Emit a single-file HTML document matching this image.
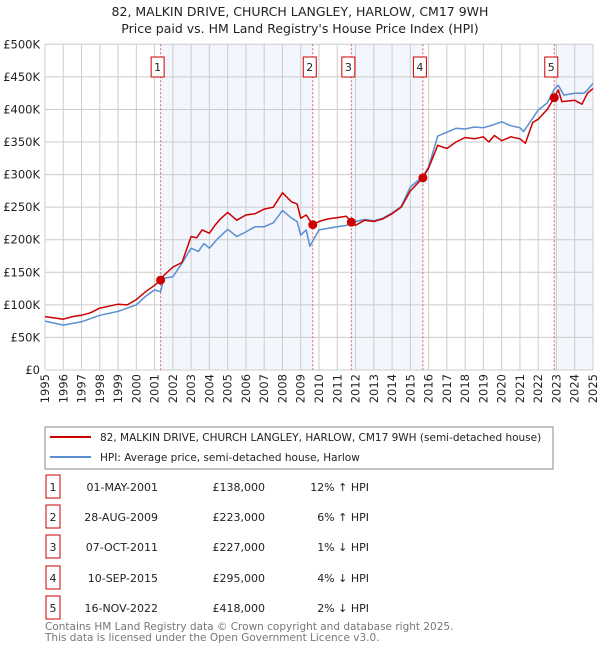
<!DOCTYPE html>
<html><head><meta charset="utf-8"><style>
body{margin:0;background:#fff;font-family:"Liberation Sans","DejaVu Sans",sans-serif;}
svg text{font-family:"DejaVu Sans","Liberation Sans",sans-serif;}
</style></head><body>
<svg id="c" width="600" height="650" xmlns="http://www.w3.org/2000/svg">
<text x="300" y="16" text-anchor="middle" font-size="12.5" fill="#222">82, MALKIN DRIVE, CHURCH LANGLEY, HARLOW, CM17 9WH</text>
<text x="300" y="33" text-anchor="middle" font-size="12.5" fill="#222">Price paid vs. HM Land Registry's House Price Index (HPI)</text>
<g id="plot"></g>
<rect x="45" y="427" width="508" height="42" fill="#fff" stroke="#888"/>
<line x1="50" y1="437" x2="91" y2="437" stroke="#cc0000" stroke-width="2"/>
<text x="100" y="441" font-size="10.5" fill="#222">82, MALKIN DRIVE, CHURCH LANGLEY, HARLOW, CM17 9WH (semi-detached house)</text>
<line x1="50" y1="457" x2="91" y2="457" stroke="#5b8fd0" stroke-width="2"/>
<text x="100" y="461" font-size="10.5" fill="#222">HPI: Average price, semi-detached house, Harlow</text>
<g id="table"></g>
<text x="45" y="630" font-size="10.5" fill="#777">Contains HM Land Registry data © Crown copyright and database right 2025.</text>
<text x="45" y="641" font-size="10.5" fill="#777">This data is licensed under the Open Government Licence v3.0.</text>
</svg>
<script>
const redT=[1995,1995.5,1996,1996.5,1997,1997.5,1998,1998.5,1999,1999.5,2000,2000.5,2001,2001.33,2001.5,2002,2002.5,2003,2003.3,2003.6,2004,2004.3,2004.6,2005,2005.5,2006,2006.5,2007,2007.5,2008,2008.5,2008.8,2009,2009.3,2009.66,2010,2010.5,2011,2011.5,2011.77,2012,2012.5,2013,2013.5,2014,2014.5,2015,2015.69,2016,2016.5,2017,2017.5,2018,2018.5,2019,2019.3,2019.6,2020,2020.5,2021,2021.3,2021.7,2022,2022.5,2022.88,2023.1,2023.3,2024,2024.4,2024.7,2025];
const redV=[82,80,78,82,84,88,95,98,101,100,108,120,130,138,145,158,165,205,203,215,210,222,232,242,230,238,240,247,250,272,258,255,233,238,223,228,232,234,236,227,222,230,228,232,240,250,275,295,310,345,340,350,357,355,358,350,360,352,358,355,348,380,385,400,418,430,412,414,408,425,432];
const hpiT=[1995,1996,1997,1998,1999,2000,2000.5,2001,2001.33,2001.5,2002,2002.5,2003,2003.4,2003.7,2004,2004.4,2005,2005.5,2006,2006.5,2007,2007.5,2008,2008.5,2008.8,2009,2009.3,2009.5,2010,2011,2011.5,2012,2012.5,2013,2013.5,2014,2014.5,2015,2015.69,2016,2016.5,2017,2017.5,2018,2018.5,2019,2019.5,2020,2020.5,2021,2021.2,2022,2022.5,2022.9,2023.1,2023.4,2024,2024.5,2024.7,2025];
const hpiV=[75,69,74,84,90,100,113,123,120,141,143,164,187,182,194,187,200,216,205,212,220,220,226,245,233,228,207,215,190,215,220,222,228,231,229,233,241,251,281,297,312,359,365,371,370,373,372,376,381,375,372,366,399,410,432,437,422,425,425,430,440];
const saleT=[2001.33,2009.66,2011.77,2015.69,2022.88];
const saleV=[138,223,227,295,418];
const saleLbl=["1","2","3","4","5"];
const saleDate=["01-MAY-2001","28-AUG-2009","07-OCT-2011","10-SEP-2015","16-NOV-2022"];
const salePrice=["£138,000","£223,000","£227,000","£295,000","£418,000"];
const salePct=["12% ↑ HPI","6% ↑ HPI","1% ↓ HPI","4% ↓ HPI","2% ↓ HPI"];
const yTicks=[0,50,100,150,200,250,300,350,400,450,500];
const yTickLbl=["£0","£50K","£100K","£150K","£200K","£250K","£300K","£350K","£400K","£450K","£500K"];
const NS="http://www.w3.org/2000/svg";
const X=t=>45+(t-1995)*(548/30);
const Y=v=>370-v*(325.7/500);
const g=document.getElementById('plot');
function mk(tag,a,p){const e=document.createElementNS(NS,tag);for(const k in a)e.setAttribute(k,a[k]);(p||g).appendChild(e);return e;}
for(let i=0;i<saleT.length;i+=2){const x1=X(saleT[i]);const x2=i+1<saleT.length?X(saleT[i+1]):X(2025);
const r=mk('rect',{x:x1,y:Y(500),width:x2-x1,height:Y(0)-Y(500),fill:'#f3f6fd'});

}
for(let y=1995;y<=2025;y++){const l=mk('line',{x1:X(y),x2:X(y),y1:Y(500),y2:Y(0),stroke:'#ccc','stroke-width':1});


const t=mk('text',{x:0,y:0,'font-size':11.5,fill:'#222','text-anchor':'end',transform:`translate(${X(y)+4},374) rotate(-90)`});t.textContent=y;

}
yTicks.forEach((v,i)=>{const l=mk('line',{x1:X(1995),x2:X(2025),y1:Y(v),y2:Y(v),stroke:'#ccc','stroke-width':1});


const t=mk('text',{x:40,y:Y(v)+4,'font-size':11.5,fill:'#222','text-anchor':'end'});t.textContent=yTickLbl[i];

});
saleT.forEach((t,i)=>{const l=mk('line',{x1:X(t),x2:X(t),y1:Y(500),y2:Y(0),stroke:'#e06060','stroke-width':1,'stroke-dasharray':'2,2'});


const r=mk('rect',{x:X(t)-9.5,y:57,width:13,height:20,fill:'#fff',stroke:'#cc0000'});


const tx=mk('text',{x:X(t)-3,y:71,'font-size':11,fill:'#222','text-anchor':'middle'});tx.textContent=saleLbl[i];

});
function path(T,V,col,name){const d=T.map((t,i)=>(i?'L':'M')+X(t).toFixed(1)+','+Y(V[i]).toFixed(1)).join('');
const p=mk('path',{d:d,fill:'none',stroke:col,'stroke-width':1.5,'stroke-linejoin':'round'});

}
path(hpiT,hpiV,'#5b8fd0','hpi-line');
path(redT,redV,'#cc0000','property-line');
saleT.forEach((t,i)=>{const c=mk('circle',{cx:X(t),cy:Y(saleV[i]),r:4.5,fill:'#cc0000'});

});
const tb=document.getElementById('table');
const rowY=[488,518,548,579,609];
saleLbl.forEach((s,i)=>{const y=rowY[i];
const r=mk('rect',{x:46,y:y-13,width:14,height:23,fill:'#fff',stroke:'#cc0000'},tb);


const cells=[[53,'middle',s],[158,'end',saleDate[i]],[265,'end',salePrice[i]],[369,'end',salePct[i]]];
cells.forEach(c=>{const t=mk('text',{x:c[0],y:y+3,'font-size':11,fill:'#222','text-anchor':c[1]},tb);t.textContent=c[2];

});});
</script>
</body></html>
